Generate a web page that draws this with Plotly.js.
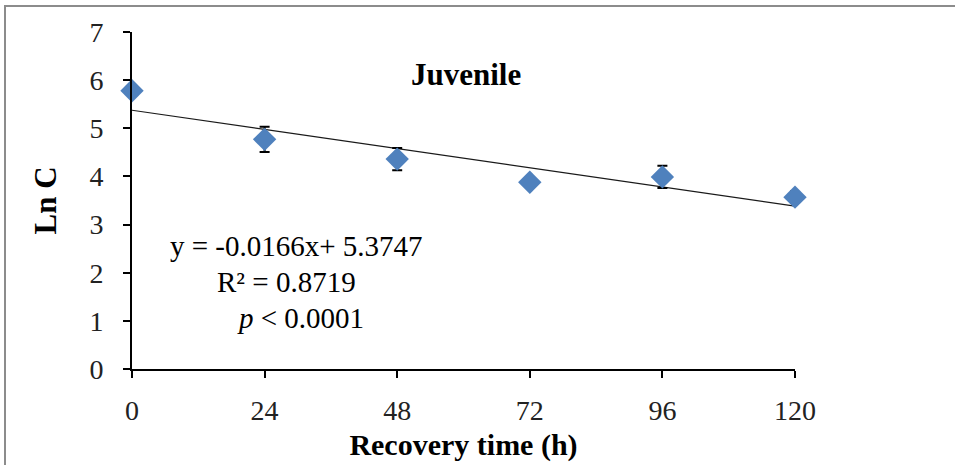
<!DOCTYPE html>
<html>
<head>
<meta charset="utf-8">
<script src="https://cdn.plot.ly/plotly-3.0.1.min.js"></script>
<style>
html,body{margin:0;padding:0;background:#fff;}
#wrap{position:relative;width:955px;height:465px;}
#chart{width:955px;height:465px;}
#frame{position:absolute;left:4px;top:5px;width:951px;height:460px;border-left:2px solid #8c8c8c;border-top:2px solid #8c8c8c;pointer-events:none;}
</style>
</head>
<body>
<div id="wrap"><div id="chart"></div><div id="frame"></div></div>
<script>
// Data
var hours = [0, 24, 48, 72, 96, 120];
var lnC = [5.78, 4.77, 4.36, 3.88, 3.99, 3.57];
var lnCErr = [0.05, 0.26, 0.23, 0.08, 0.23, 0.12];
var trendX = [0, 120];
var trendY = [5.3747, 3.3827];
var tickVals = [0, 24, 48, 72, 96, 120];
var tickText = ['0', '24', '48', '72', '96', '120'];
var titleText = 'Juvenile';
var eqLines = ['y = -0.0166x+ 5.3747', 'R\u00B2 = 0.8719', '<i>p</i> &lt; 0.0001'];

var serif = 'Liberation Serif, Times New Roman, serif';

var traces = [
  {
    x: trendX, y: trendY, type: 'scatter', mode: 'lines',
    line: {color: '#1a1a1a', width: 1.2}, hoverinfo: 'skip', showlegend: false
  },
  {
    x: hours, y: lnC, type: 'scatter', mode: 'markers',
    marker: {symbol: 'diamond', size: 18, color: '#4F81BD'},
    error_y: {type: 'data', array: lnCErr, visible: true, color: '#000', thickness: 2, width: 5},
    cliponaxis: false, showlegend: false
  }
];

var layout = {
  width: 955, height: 465,
  margin: {l: 132, r: 160, t: 32, b: 96},
  paper_bgcolor: '#fff', plot_bgcolor: '#fff',
  showlegend: false,
  font: {family: serif, color: '#000'},
  xaxis: {
    range: [0, 120], tickvals: tickVals, ticktext: tickText,
    showgrid: false, zeroline: false, showline: true, linecolor: '#000', linewidth: 2,
    ticks: 'outside', ticklen: 7, tickwidth: 2, tickcolor: '#000',
    tickfont: {family: serif, size: 28, color: '#222'},
    ticklabelstandoff: 8,
    title: {text: '<b>Recovery time (h)</b>', font: {family: serif, size: 30, color: '#000'}, standoff: 9}
  },
  yaxis: {
    range: [0, 7], dtick: 1, tick0: 0,
    showgrid: false, zeroline: false, showline: true, linecolor: '#000', linewidth: 2,
    ticks: 'outside', ticklen: 7, tickwidth: 2, tickcolor: '#000',
    tickfont: {family: serif, size: 28, color: '#222'},
    ticklabelstandoff: 14,
    title: {text: '<b>Ln C</b>', font: {family: serif, size: 31, color: '#000'}, standoff: 24}
  },
  annotations: [
    {x: 60.4, y: 6.11, xref: 'x', yref: 'y', text: '<b>' + titleText + '</b>', showarrow: false,
     font: {family: serif, size: 31, color: '#000'}},
    {x: 29.7, y: 2.55, xref: 'x', yref: 'y', text: eqLines[0], showarrow: false,
     font: {family: serif, size: 29, color: '#000'}},
    {x: 28.05, y: 1.81, xref: 'x', yref: 'y', text: eqLines[1], showarrow: false,
     font: {family: serif, size: 29, color: '#000'}},
    {x: 30.5, y: 1.06, xref: 'x', yref: 'y', text: eqLines[2], showarrow: false,
     font: {family: serif, size: 29, color: '#000'}}
  ]
};

Plotly.newPlot('chart', traces, layout, {displayModeBar: false, staticPlot: true});
</script>
</body>
</html>
